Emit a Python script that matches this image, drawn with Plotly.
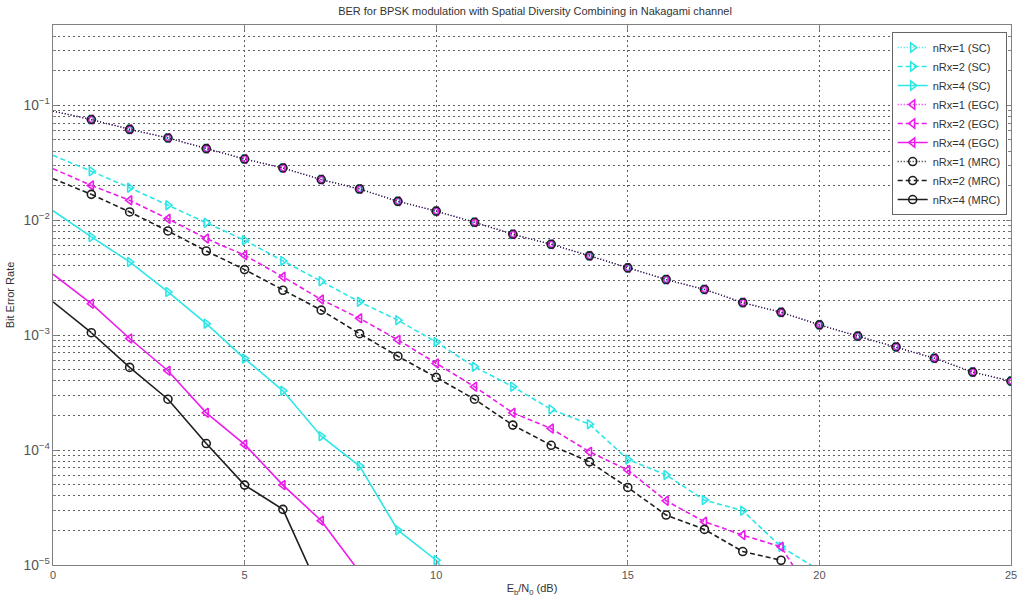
import plotly.graph_objects as go

# Eb/N0 sweep (dB)
ebn0_db = list(range(0, 26))

# single receive antenna: SC, EGC and MRC coincide
ber_nrx1 = [0.089, 0.0752, 0.0618, 0.052, 0.042, 0.0341, 0.0285, 0.0226, 0.0187,
            0.0146, 0.0120, 0.0096, 0.00755, 0.00618, 0.0049, 0.00385, 0.00305,
            0.0025, 0.00192, 0.00158, 0.00123, 0.00098, 0.00079, 0.00063,
            0.000477, 0.000398]

ber_sc2 = [0.0367, 0.0267, 0.0192, 0.0135, 0.0095, 0.0067, 0.00443, 0.00295,
           0.00195, 0.00135, 0.00087, 0.00053, 0.000356, 0.000226, 0.000168,
           8.3e-5, 6.07e-5, 3.67e-5, 2.97e-5, 1.44e-5, 9.0e-6,
           None, None, None, None, None]
ber_sc4 = [0.0121, 0.00716, 0.00434, 0.00238, 0.00126, 0.000626, 0.000328,
           0.000132, 7.26e-5, 2.01e-5, 1.10e-5, 4.0e-6] + [None] * 14

ber_egc2 = [0.0281, 0.0201, 0.0149, 0.0103, 0.00693, 0.00496, 0.00322, 0.00204,
            0.0014, 0.00091, 0.000568, 0.000356, 0.000211, 0.000154, 9.66e-5,
            6.7e-5, 3.62e-5, 2.38e-5, 1.82e-5, 1.44e-5, 4.3e-6,
            None, None, None, None, None]
ber_egc4 = [0.00339, 0.00188, 0.000935, 0.00049, 0.000211, 0.000112, 4.96e-5,
            2.43e-5, 8.7e-6] + [None] * 17

ber_mrc2 = [0.023, 0.0168, 0.0118, 0.00807, 0.0054, 0.00372, 0.00246, 0.00165,
            0.00103, 0.000656, 0.000429, 0.000277, 0.000165, 0.00011, 7.9e-5,
            4.73e-5, 2.72e-5, 2.04e-5, 1.31e-5, 1.10e-5] + [None] * 6
ber_mrc4 = [0.00195, 0.00105, 0.000524, 0.000277, 0.000114, 4.96e-5, 3.05e-5,
            5.6e-6] + [None] * 18

CYAN = "#2EE6E6"
MAGENTA = "#EC1CEC"
BLACK = "#1E1E1E"
DOT = "1px,2px"
DASH = "5px,3px"

series = [
    ("nRx=1 (SC)", ber_nrx1, CYAN, DOT, "triangle-right-open"),
    ("nRx=2 (SC)", ber_sc2, CYAN, DASH, "triangle-right-open"),
    ("nRx=4 (SC)", ber_sc4, CYAN, "solid", "triangle-right-open"),
    ("nRx=1 (EGC)", ber_nrx1, MAGENTA, DOT, "triangle-left-open"),
    ("nRx=2 (EGC)", ber_egc2, MAGENTA, DASH, "triangle-left-open"),
    ("nRx=4 (EGC)", ber_egc4, MAGENTA, "solid", "triangle-left-open"),
    ("nRx=1 (MRC)", ber_nrx1, BLACK, DOT, "circle-open"),
    ("nRx=2 (MRC)", ber_mrc2, BLACK, DASH, "circle-open"),
    ("nRx=4 (MRC)", ber_mrc4, BLACK, "solid", "circle-open"),
]

fig = go.Figure()
for name, ber, color, dash, symbol in series:
    width = 1.3 if dash == DOT else 1.6
    # first segment (0 -> 1 dB) carries no marker
    fig.add_trace(go.Scatter(
        x=ebn0_db[:2], y=ber[:2], mode="lines", showlegend=False,
        hoverinfo="skip", line=dict(color=color, dash=dash, width=width)))
    fig.add_trace(go.Scatter(
        x=ebn0_db[1:], y=ber[1:], mode="lines+markers", name=name,
        line=dict(color=color, dash=dash, width=width),
        marker=dict(symbol=symbol, size=8, color=color,
                    line=dict(color=color, width=1.6))))

GRID = "#606060"
GRIDDASH = "2px,3px"
AXIS = "#808080"
TICKFONT = dict(family="Liberation Sans, Arial, sans-serif", size=11, color="#555")

fig.update_layout(
    width=1021, height=603,
    margin=dict(l=53, r=4, t=25, b=38),
    paper_bgcolor="white", plot_bgcolor="white",
    font=dict(family="Liberation Sans, Arial, sans-serif", size=11, color="#333"),
    title=dict(text="BER for BPSK modulation with Spatial Diversity Combining in Nakagami channel",
               x=(53 + 1017) / 2 / 1021, xanchor="center",
               y=1 - 11 / 603, yanchor="middle", yref="container",
               font=dict(size=11, color="#333")),
    legend=dict(x=0.9955, xanchor="right", y=0.987, yanchor="top",
                bgcolor="white", bordercolor="#666", borderwidth=1,
                font=dict(size=11, color="#333"), tracegroupgap=0),
    showlegend=True,
)

fig.update_xaxes(
    range=[0, 25], dtick=5, tick0=0,
    showgrid=True, gridcolor=GRID, griddash=GRIDDASH, gridwidth=1,
    showline=True, linecolor=AXIS, linewidth=1, mirror="allticks",
    ticks="inside", ticklen=5, tickcolor=AXIS, tickfont=TICKFONT,
    ticklabeloverflow="allow",
    zeroline=False,
    title=dict(text="E<sub>b</sub>/N<sub>0</sub> (dB)", standoff=4,
               font=dict(size=11, color="#333")),
)

fig.update_yaxes(
    type="log", range=[-5, -0.30103], dtick=1,
    exponentformat="power",
    showgrid=True, gridcolor=GRID, griddash=GRIDDASH, gridwidth=1,
    minor=dict(showgrid=True, gridcolor=GRID, griddash=GRIDDASH, gridwidth=1,
               ticks="inside", ticklen=3, tickcolor=AXIS),
    showline=True, linecolor=AXIS, linewidth=1, mirror="allticks",
    ticks="inside", ticklen=5, tickcolor=AXIS, tickfont=TICKFONT,
    zeroline=False,
    title=dict(text="Bit Error Rate", standoff=6, font=dict(size=11, color="#333")),
)

fig.write_html("out.html")
